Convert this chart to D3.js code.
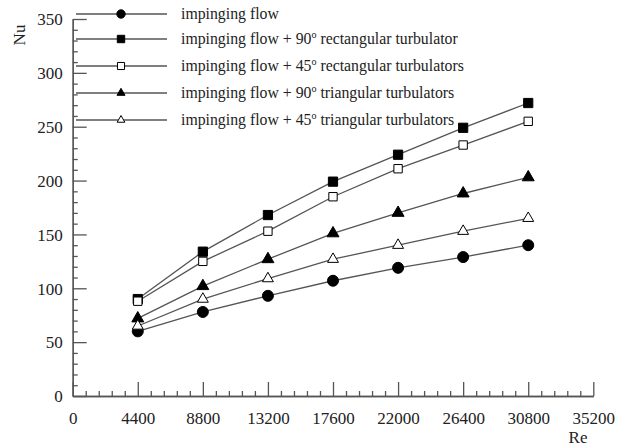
<!DOCTYPE html>
<html>
<head>
<meta charset="utf-8">
<script src="https://cdn.jsdelivr.net/npm/d3@7"></script>
<style>
  html, body { margin: 0; padding: 0; background: #fff; }
  svg { display: block; }
  svg text { font-family: "Liberation Serif", "Times New Roman", "DejaVu Serif", serif !important; fill: #222; }
</style>
</head>
<body>
<svg id="chart" width="627" height="448"></svg>
<script>
// Reynolds numbers tested
const reValues = [4400, 8800, 13200, 17600, 22000, 26400, 30800];

// Average Nusselt number for each configuration
const nuImpinging = [60, 78, 93, 107, 119, 129, 140];
const nuRect90 = [90, 134, 168, 199, 224, 249, 272];
const nuRect45 = [88, 125, 153, 185, 211, 233, 255];
const nuTri90 = [72, 102, 127, 151, 170, 188, 203];
const nuTri45 = [65, 90, 109, 127, 140, 153, 165];

// Legend entries: text before the degree mark, the degree, text after
const legendBefore = ["impinging flow", "impinging flow + 90", "impinging flow + 45", "impinging flow + 90", "impinging flow + 45"];
const legendDegree = ["", "o", "o", "o", "o"];
const legendAfter = ["", " rectangular turbulator", " rectangular turbulators", " triangular turbulators", " triangular turbulators"];

// Axis ticks
const xTicks = [0, 4400, 8800, 13200, 17600, 22000, 26400, 30800, 35200];
const yTicks = [0, 50, 100, 150, 200, 250, 300, 350];

const serif = '"Liberation Serif", "Times New Roman", "DejaVu Serif", serif';
const svg = d3.select("#chart");

const x = d3.scaleLinear().domain([0, 35200]).range([72.7, 593.3]);
const y = d3.scaleLinear().domain([0, 350]).range([396, 19]);

const series = [
  { values: nuImpinging, shape: d3.symbolCircle, filled: true, size: 95, legendSize: 55 },
  { values: nuRect90, shape: d3.symbolSquare, filled: true, size: 85, legendSize: 55 },
  { values: nuRect45, shape: d3.symbolSquare, filled: false, size: 70, legendSize: 50 },
  { values: nuTri90, shape: d3.symbolTriangle, filled: true, size: 62, legendSize: 28 },
  { values: nuTri45, shape: d3.symbolTriangle, filled: false, size: 52, legendSize: 26 }
];

const axisColor = "#555";

// Minor ticks
const xMinor = d3.range(0, 35200 + 1, 880).filter(v => v % 4400 !== 0);
const yMinor = d3.range(0, 351, 10).filter(v => v % 50 !== 0);

const gx = svg.append("g").attr("transform", `translate(0,${y(0)})`);
gx.call(d3.axisBottom(x).tickValues(xMinor).tickSizeInner(-5).tickSizeOuter(0).tickFormat(""));
const gxMajor = svg.append("g").attr("transform", `translate(0,${y(0)})`)
  .call(d3.axisBottom(x).tickValues(xTicks).tickSizeInner(-14).tickSizeOuter(0).tickPadding(16).tickFormat(d3.format("d")));

const gy = svg.append("g").attr("transform", `translate(${x(0)},0)`);
gy.call(d3.axisLeft(y).tickValues(yMinor).tickSizeInner(-5).tickSizeOuter(0).tickFormat(""));
const gyMajor = svg.append("g").attr("transform", `translate(${x(0)},0)`)
  .call(d3.axisLeft(y).tickValues(yTicks).tickSizeInner(-14).tickSizeOuter(0).tickPadding(10).tickFormat(d3.format("d")));

[gx, gxMajor, gy, gyMajor].forEach(g => g.attr("font-family", serif).attr("font-size", 17));
svg.selectAll(".domain, .tick line").attr("stroke", axisColor).attr("stroke-width", 1.3);
svg.selectAll(".tick text")
  .attr("font-family", serif)
  .attr("font-size", 17)
  .attr("fill", "#222");
gyMajor.selectAll(".tick text").attr("dy", "0.34em");

// Axis titles
svg.append("text")
  .attr("transform", "translate(25,35) rotate(-90)")
  .attr("text-anchor", "middle")
  .attr("font-family", serif)
  .attr("font-size", 17)
  .text("Nu");
svg.append("text")
  .attr("x", 578).attr("y", 443)
  .attr("text-anchor", "middle")
  .attr("font-family", serif)
  .attr("font-size", 17)
  .text("Re");

// Legend
const legendY = [14, 39, 66, 93, 120];
const legend = svg.append("g");
series.forEach((s, i) => {
  const row = legend.append("g");
  row.append("line")
    .attr("x1", 76).attr("x2", 167)
    .attr("y1", legendY[i]).attr("y2", legendY[i])
    .attr("stroke", axisColor).attr("stroke-width", 1.3);
  row.append("path")
    .attr("d", d3.symbol().type(s.shape).size(s.legendSize)())
    .attr("transform", `translate(121,${legendY[i]})`)
    .attr("fill", s.filled ? "#000" : "#fff")
    .attr("stroke", "#000").attr("stroke-width", 1);
  const t = row.append("text")
    .attr("x", 181).attr("y", legendY[i] + 5)
    .attr("font-family", serif)
    .attr("font-size", 15.8);
  t.append("tspan").text(legendBefore[i]);
  if (legendDegree[i]) {
    t.append("tspan").attr("dy", -6).attr("font-size", 10).text(legendDegree[i]);
    t.append("tspan").attr("dy", 6).attr("xml:space", "preserve").text(legendAfter[i]);
  }
});

// Data lines and markers
const line = d3.line().x((d, j) => x(reValues[j])).y(d => y(d));
series.forEach(s => {
  svg.append("path")
    .datum(s.values)
    .attr("d", line)
    .attr("fill", "none")
    .attr("stroke", axisColor)
    .attr("stroke-width", 1.3);
});
series.forEach(s => {
  svg.append("g").selectAll("path")
    .data(s.values)
    .join("path")
    .attr("d", d3.symbol().type(s.shape).size(s.size)())
    .attr("transform", (d, j) => `translate(${x(reValues[j])},${y(d)})`)
    .attr("fill", s.filled ? "#000" : "#fff")
    .attr("stroke", "#000")
    .attr("stroke-width", 1);
});
</script>
</body>
</html>
